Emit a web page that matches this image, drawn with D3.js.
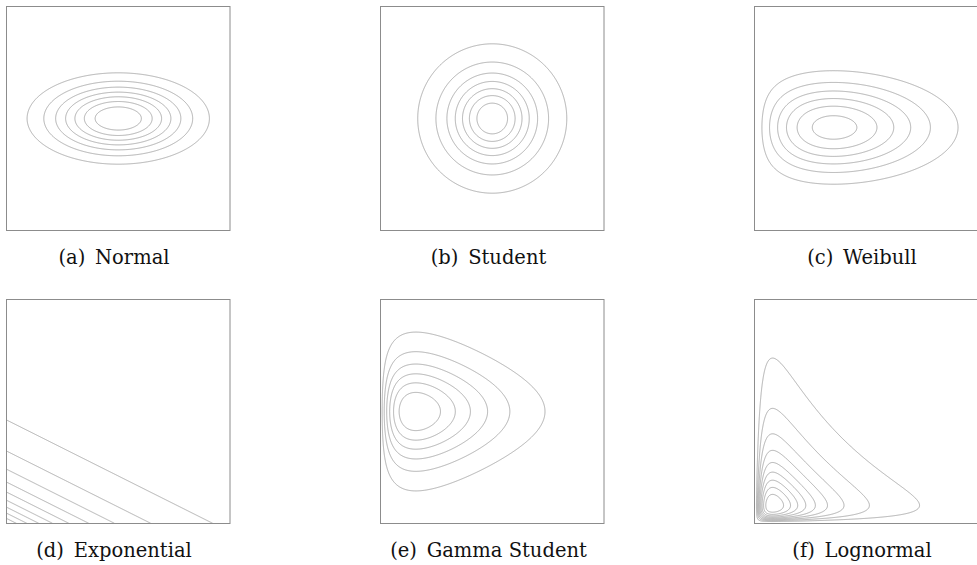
<!DOCTYPE html>
<html>
<head>
<meta charset="utf-8">
<script src="https://cdn.jsdelivr.net/npm/d3@7"></script>
<style>
  body { margin: 0; background: #fff; }
  svg { display: block; }
  .frame { fill: none; stroke: #8c8c8c; stroke-width: 1; }
  .contour { fill: none; stroke: #999; stroke-width: 0.8; }
  .caption { font-family: "DejaVu Serif", serif; font-size: 19.5px; fill: #111; }
</style>
</head>
<body>
<div id="chart"></div>
<script>
// captions
const labels = ["(a)", "(b)", "(c)", "(d)", "(e)", "(f)"];
const names = ["Normal", "Student", "Weibull", "Exponential", "Gamma Student", "Lognormal"];

// every panel shows 0..10 on both axes
const xDomain = [0, 10];
const yDomain = [0, 10];

// contour levels, as a share of the density's peak
const normalLevels = [0.125, 0.25, 0.375, 0.5, 0.625, 0.75, 0.875];
const studentLevels = [0.125, 0.25, 0.375, 0.5, 0.625, 0.75, 0.875];
const weibullLevels = [0.154, 0.308, 0.462, 0.615, 0.769, 0.923];
const expLevels = [0.1, 0.2, 0.3, 0.4, 0.5, 0.6, 0.7, 0.8, 0.9];
const gammaStudentLevels = [0.143, 0.286, 0.429, 0.571, 0.714, 0.857];
const lognormalLevels = [0.1, 0.2, 0.3, 0.4, 0.5, 0.6, 0.7, 0.8, 0.9];

// distribution parameters
const normalMean = [5, 5];
const normalSd = [2, 1];
const studentCenter = [5, 5];
const studentScale = 1.69;
const studentDf = 3;
const weibullX = [2, 5.0];           // shape, scale
const weibullY = [4.6, 1.31];        // mean, sd
const expRates = [0.25, 0.5];
const gammaX = [1.92, 1.72];         // shape, scale
const studentY = [5.0, 1.66, 5];     // center, scale, df
const lognormalParams = [0.85, 1.03]; // mu, sigma (same on both axes)

const densities = [
    (x, y) => Math.exp(-0.5 * (((x - normalMean[0]) / normalSd[0]) ** 2 + ((y - normalMean[1]) / normalSd[1]) ** 2)),
    (x, y) => {
        const r2 = ((x - studentCenter[0]) ** 2 + (y - studentCenter[1]) ** 2) / (studentScale * studentScale);
        return Math.pow(1 + r2 / studentDf, -(studentDf + 2) / 2);
    },
    (x, y) => {
        const t = x / weibullX[1];
        return Math.pow(t, weibullX[0] - 1) * Math.exp(-Math.pow(t, weibullX[0]))
            * Math.exp(-0.5 * ((y - weibullY[0]) / weibullY[1]) ** 2);
    },
    (x, y) => Math.exp(-expRates[0] * x - expRates[1] * y),
    (x, y) => {
        const u = (y - studentY[0]) / studentY[1];
        return Math.pow(x, gammaX[0] - 1) * Math.exp(-x / gammaX[1])
            * Math.pow(1 + u * u / studentY[2], -(studentY[2] + 1) / 2);
    },
    (x, y) => {
        const g = v => Math.exp(-((Math.log(v) - lognormalParams[0]) ** 2) / (2 * lognormalParams[1] ** 2)) / v;
        return g(x) * g(y);
    }
];
const levels = [normalLevels, studentLevels, weibullLevels, expLevels, gammaStudentLevels, lognormalLevels];

// layout
const width = 977, height = 565;
const colX = [6.5, 380.5, 754.5];
const rowY = [6.5, 299.5];
const boxW = 223.5, boxH = 224;
const captionX = [114, 488.5, 862];
const captionY = [264, 557];
const cell = 0.5;

const svg = d3.select("#chart")
    .append("svg")
    .attr("width", width)
    .attr("height", height);

const x = d3.scaleLinear().domain(xDomain).range([0, boxW]);
const y = d3.scaleLinear().domain(yDomain).range([boxH, 0]);

const nx = Math.round(boxW / cell), ny = Math.round(boxH / cell);
const path = d3.geoPath(d3.geoIdentity().scale(cell));

names.forEach(function(name, i) {
    const col = i % 3, row = Math.floor(i / 3);
    const g = svg.append("g")
        .attr("transform", "translate(" + colX[col] + "," + rowY[row] + ")");

    // sample the density on a fine grid
    const f = densities[i];
    const values = new Float64Array(nx * ny);
    for (let j = 0; j < ny; j++) {
        for (let k = 0; k < nx; k++) {
            values[j * nx + k] = f(x.invert((k + 0.5) * cell), y.invert((j + 0.5) * cell));
        }
    }
    const peak = d3.max(values);

    const contours = d3.contours()
        .size([nx, ny])
        .thresholds(levels[i].map(l => l * peak))(values);

    g.selectAll("path")
        .data(contours)
        .enter()
        .append("path")
        .attr("class", "contour")
        .attr("d", path);

    g.append("rect")
        .attr("class", "frame")
        .attr("width", boxW)
        .attr("height", boxH);

    svg.append("text")
        .attr("class", "caption")
        .attr("x", captionX[col])
        .attr("y", captionY[row])
        .attr("text-anchor", "middle")
        .text(labels[i] + "\u2002" + name);
});
</script>
</body>
</html>
